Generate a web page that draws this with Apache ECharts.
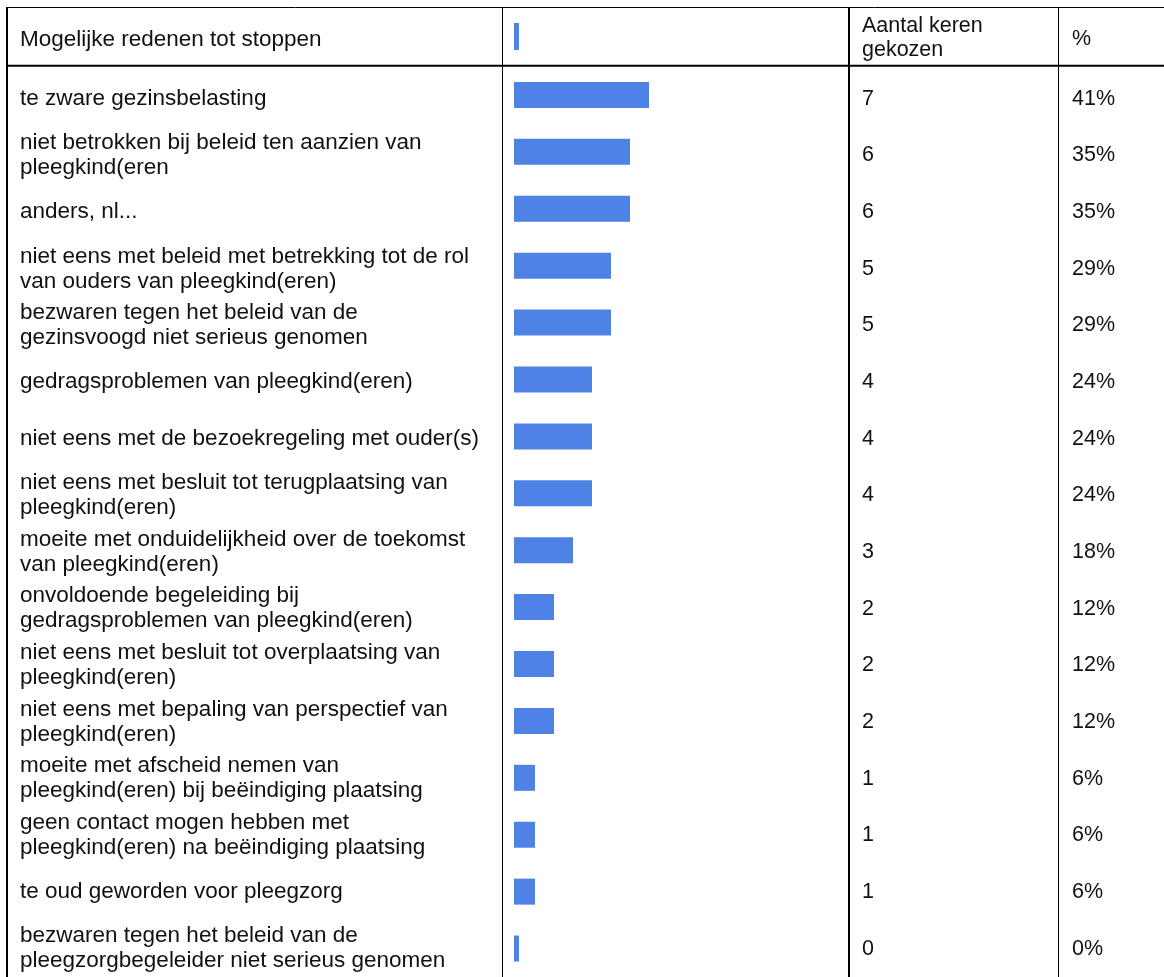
<!DOCTYPE html>
<html><head><meta charset="utf-8">
<script src="https://cdn.jsdelivr.net/npm/echarts@6/dist/echarts.min.js"></script>
<style>html,body{margin:0;padding:0;background:#fff}#c{width:1164px;height:977px}</style>
</head><body><div id="c"></div>
<script>
const headerReason = 'Mogelijke redenen tot stoppen';
const headerCount = 'Aantal keren\ngekozen';
const headerPct = '%';
const reasons = [
  'te zware gezinsbelasting',
  'niet betrokken bij beleid ten aanzien van\npleegkind(eren',
  'anders, nl...',
  'niet eens met beleid met betrekking tot de rol\nvan ouders van pleegkind(eren)',
  'bezwaren tegen het beleid van de\ngezinsvoogd niet serieus genomen',
  'gedragsproblemen van pleegkind(eren)',
  'niet eens met de bezoekregeling met ouder(s)',
  'niet eens met besluit tot terugplaatsing van\npleegkind(eren)',
  'moeite met onduidelijkheid over de toekomst\nvan pleegkind(eren)',
  'onvoldoende begeleiding bij\ngedragsproblemen van pleegkind(eren)',
  'niet eens met besluit tot overplaatsing van\npleegkind(eren)',
  'niet eens met bepaling van perspectief van\npleegkind(eren)',
  'moeite met afscheid nemen van\npleegkind(eren) bij beëindiging plaatsing',
  'geen contact mogen hebben met\npleegkind(eren) na beëindiging plaatsing',
  'te oud geworden voor pleegzorg',
  'bezwaren tegen het beleid van de\npleegzorgbegeleider niet serieus genomen'
];
const counts = [7, 6, 6, 5, 5, 4, 4, 4, 3, 2, 2, 2, 1, 1, 1, 0];
const percents = ['41%', '35%', '35%', '29%', '29%', '24%', '24%', '24%', '18%', '12%', '12%', '12%', '6%', '6%', '6%', '0%'];

const FONT = 'Liberation Sans, Arial, sans-serif';
const FS = 22.5;
const FS_NUM = 21.5;
const TXT = '#111';
const BAR = '#4e82e4';

const chart = echarts.init(document.getElementById('c'), null, {renderer: 'canvas'});
const vline = (x, w) => ({type: 'line', shape: {x1: x, y1: 7, x2: x, y2: 977}, style: {stroke: '#000', lineWidth: w}, silent: true});
const hline = (y, w) => ({type: 'line', shape: {x1: 6, y1: y, x2: 1164, y2: y}, style: {stroke: '#000', lineWidth: w}, silent: true});
const lbl = (fs) => ({fontFamily: FONT, fontSize: fs, color: TXT, lineHeight: 25});
const catAxis = (data, grid, extra) => Object.assign({
  type: 'category', data: data, inverse: true, gridIndex: grid,
  axisLine: {show: false}, axisTick: {show: false}, splitLine: {show: false}
}, extra);

chart.setOption({
  animation: false,
  backgroundColor: '#fff',
  grid: [
    {left: 514, top: 66.5, height: 911, width: 306, containLabel: false},
    {left: 514, top: 70.5, height: 911, width: 306, containLabel: false}
  ],
  xAxis: [
    {type: 'value', gridIndex: 0, min: -0.105, max: 16, startValue: -0.105, show: false},
    {type: 'value', gridIndex: 1, min: 0, max: 16, show: false}
  ],
  yAxis: [
    catAxis(reasons, 0, {position: 'left', axisLabel: {show: false}}),
    catAxis(reasons, 1, {position: 'left', axisLabel: Object.assign({margin: 494, align: 'left'}, lbl(FS))}),
    catAxis(counts.map(String), 1, {position: 'right', offset: 42, axisLabel: Object.assign({margin: 0, align: 'left'}, lbl(FS_NUM))}),
    catAxis(percents, 1, {position: 'right', offset: 252, axisLabel: Object.assign({margin: 0, align: 'left'}, lbl(FS_NUM))})
  ],
  series: [{
    type: 'bar', data: counts, yAxisIndex: 0, xAxisIndex: 0,
    barWidth: 26, barMinHeight: 5, silent: true,
    itemStyle: {color: BAR}
  }],
  graphic: [
    hline(7.5, 1), hline(65.8, 2),
    vline(7, 2), vline(502.5, 1), vline(849, 2), vline(1058.5, 1),
    {type: 'rect', shape: {x: 514, y: 23, width: 5, height: 27}, style: {fill: BAR}, silent: true},
    {type: 'text', x: 20, y: 40, style: {text: headerReason, font: FS + 'px ' + FONT, fill: TXT, textVerticalAlign: 'middle'}},
    {type: 'text', x: 862, y: 38, style: {text: headerCount, font: FS_NUM + 'px ' + FONT, fill: TXT, textVerticalAlign: 'middle', lineHeight: 24}},
    {type: 'text', x: 1072, y: 39, style: {text: headerPct, font: FS_NUM + 'px ' + FONT, fill: TXT, textVerticalAlign: 'middle'}}
  ]
});
</script>
</body></html>
